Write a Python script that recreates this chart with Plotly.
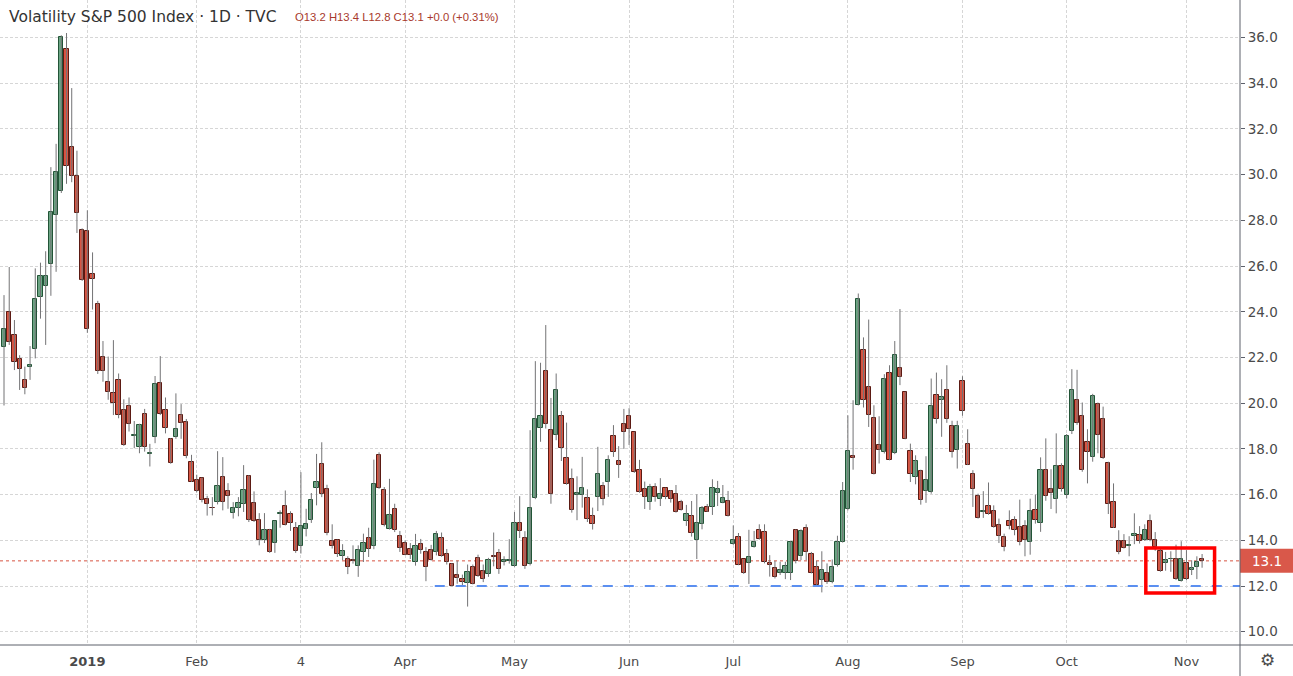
import pandas as pd
import plotly.graph_objects as go

# trading days shown (US market holidays removed)
HOLIDAYS = ["2018-12-25", "2019-01-01", "2019-01-21", "2019-02-18", "2019-04-19",
            "2019-05-27", "2019-07-04", "2019-09-02"]
DATES = [d.strftime("%Y-%m-%d") for d in pd.bdate_range("2018-12-07", "2019-11-06")
         if d.strftime("%Y-%m-%d") not in HOLIDAYS]

OPENS = [
    22.44, 23.97, 22.98, 21.92, 21.02, 21.57, 22.36, 24.65, 25.13, 26.11, 28.25, 29.28, 35.49, 31.21, 29.95, 27.59,
    27.55, 25.67, 24.36, 22.04, 20.94, 20.43, 21.01, 19.70, 19.88, 18.56, 18.07, 19.53, 17.79, 18.54, 20.87, 19.70,
    18.44, 18.54, 19.47, 19.16, 17.42, 16.65, 16.72, 15.80, 15.43, 15.66, 16.79, 16.17, 15.21, 15.42, 15.60, 16.82,
    15.64, 14.90, 14.00, 14.47, 13.88, 15.17, 15.51, 15.16, 14.55, 13.75, 14.49, 14.90, 16.30, 17.35, 16.25, 13.96,
    14.00, 13.32, 13.20, 13.12, 12.88, 13.49, 14.12, 13.75, 17.75, 16.21, 14.51, 15.38, 14.17, 13.90, 13.62, 13.05,
    13.85, 13.49, 13.59, 13.49, 14.09, 13.40, 12.97, 12.50, 12.29, 12.14, 12.84, 13.23, 12.65, 12.53, 13.32, 13.44,
    13.05, 13.10, 12.89, 14.75, 14.10, 12.95, 15.85, 18.93, 21.40, 18.82, 18.63, 19.43, 17.58, 16.70, 15.97, 15.97,
    15.87, 15.05, 15.90, 16.36, 16.53, 18.55, 17.46, 19.09, 19.45, 18.73, 17.08, 16.23, 15.66, 16.32, 15.81, 16.28,
    16.16, 16.01, 15.66, 14.86, 15.07, 14.01, 14.71, 15.45, 15.45, 16.09, 15.65, 15.72, 13.84, 14.16, 13.16, 12.99,
    13.71, 14.46, 14.36, 12.99, 12.77, 12.59, 12.59, 12.59, 14.43, 13.30, 14.55, 13.42, 12.81, 12.26, 12.59, 12.16,
    12.90, 13.94, 15.39, 17.68, 19.94, 22.32, 20.69, 19.37, 18.16, 17.87, 21.30, 17.80, 21.56, 20.47, 17.93, 16.77,
    17.02, 16.15, 16.12, 20.35, 20.16, 20.57, 19.02, 17.94, 20.96, 18.23, 16.92, 15.93, 15.24, 15.52, 15.28, 14.69,
    14.15, 14.85, 14.91, 14.58, 14.63, 13.93, 15.34, 14.77, 17.08, 16.23, 15.79, 17.25, 15.98, 18.79, 20.15, 19.44,
    18.30, 17.63, 19.97, 19.30, 17.37, 15.66, 13.96, 13.96, 13.77, 14.20, 14.22, 14.00, 14.83, 14.00, 13.52, 13.01,
    13.16, 13.20, 12.22, 12.99, 12.70, 12.84, 13.20,
]
HIGHS = [
    24.73, 25.96, 23.64, 22.10, 21.60, 22.50, 25.90, 26.15, 26.65, 30.33, 31.35, 36.10, 36.20, 33.79, 31.05, 27.65,
    28.44, 26.60, 24.48, 22.72, 22.04, 22.76, 21.30, 20.17, 20.25, 19.22, 19.10, 19.75, 18.22, 21.19, 22.06, 20.25,
    18.47, 20.43, 19.96, 19.31, 17.74, 16.87, 16.75, 15.95, 15.89, 17.90, 17.64, 16.50, 15.67, 15.89, 17.29, 16.85,
    16.14, 15.19, 15.19, 14.50, 14.86, 15.31, 16.18, 15.27, 14.80, 16.98, 15.38, 16.07, 17.78, 18.29, 16.43, 14.70,
    14.03, 13.83, 13.30, 13.78, 13.78, 14.29, 14.55, 17.53, 17.85, 16.33, 16.69, 15.60, 14.41, 14.00, 13.88, 14.28,
    14.06, 13.70, 13.80, 14.41, 14.34, 13.62, 13.00, 13.11, 12.50, 12.94, 12.94, 13.37, 12.94, 13.23, 14.34, 13.62,
    13.30, 14.05, 15.24, 15.93, 14.40, 18.82, 21.84, 21.77, 23.42, 20.23, 21.30, 19.66, 19.15, 17.14, 16.80, 17.65,
    16.23, 15.43, 18.09, 16.55, 17.72, 19.04, 18.12, 19.75, 19.78, 18.75, 17.52, 16.57, 16.47, 16.50, 16.72, 16.30,
    16.20, 16.42, 15.77, 15.55, 15.72, 16.01, 15.50, 15.59, 16.67, 16.60, 16.42, 16.16, 14.65, 14.32, 13.18, 14.46,
    14.41, 14.70, 14.70, 13.35, 13.10, 13.06, 13.06, 13.96, 14.48, 14.48, 14.70, 13.49, 13.10, 13.52, 12.99, 13.16,
    14.20, 16.55, 19.47, 20.13, 24.80, 22.88, 23.66, 19.91, 19.43, 21.27, 21.66, 22.72, 24.12, 20.50, 18.23, 17.72,
    17.09, 17.68, 21.08, 21.34, 21.05, 21.66, 19.23, 19.23, 21.18, 18.86, 17.07, 16.04, 16.15, 16.53, 15.53, 14.95,
    14.29, 15.31, 15.05, 15.78, 14.88, 15.82, 16.00, 17.63, 18.46, 17.11, 18.68, 17.37, 18.65, 21.49, 21.46, 20.03,
    18.86, 20.41, 20.03, 19.85, 17.44, 16.49, 14.44, 14.27, 14.18, 15.18, 14.62, 14.70, 15.13, 14.36, 13.71, 13.49,
    13.52, 13.81, 13.96, 13.57, 13.13, 13.30, 13.40,
]
LOWS = [
    19.90, 22.55, 21.45, 20.58, 20.39, 21.02, 21.96, 23.70, 22.55, 24.70, 25.75, 29.20, 29.60, 29.67, 27.45, 25.35,
    23.08, 24.10, 21.28, 20.94, 20.15, 19.48, 19.34, 18.13, 18.76, 18.03, 17.81, 17.88, 17.23, 18.25, 19.48, 18.68,
    17.35, 18.44, 18.44, 17.59, 16.55, 16.10, 15.66, 15.08, 15.09, 15.57, 15.31, 15.38, 14.95, 15.05, 15.24, 14.80,
    14.80, 13.78, 13.88, 13.45, 13.45, 14.55, 14.65, 14.41, 13.45, 13.42, 14.17, 14.76, 15.53, 15.89, 14.22, 13.64,
    13.27, 13.13, 12.52, 12.98, 12.40, 13.05, 13.27, 13.61, 16.25, 14.61, 14.47, 14.36, 13.49, 13.35, 13.18, 12.89,
    13.41, 12.21, 13.11, 13.34, 13.28, 12.94, 11.98, 12.10, 12.00, 11.10, 12.07, 12.40, 12.17, 12.40, 12.86, 12.53,
    12.90, 12.98, 12.84, 14.10, 12.75, 12.90, 15.80, 18.31, 18.89, 15.60, 18.38, 17.47, 16.43, 15.21, 14.88, 15.43,
    14.80, 14.47, 15.28, 15.53, 15.90, 17.65, 16.73, 18.00, 18.17, 16.95, 16.08, 15.37, 15.33, 15.69, 15.50, 15.80,
    15.65, 15.21, 15.30, 14.63, 14.16, 13.18, 14.48, 15.24, 15.11, 15.50, 15.62, 15.04, 13.80, 12.91, 12.53, 12.09,
    13.68, 14.03, 12.99, 12.41, 12.33, 12.48, 12.30, 12.26, 12.99, 13.13, 13.13, 12.55, 12.00, 11.72, 12.09, 12.12,
    12.85, 13.90, 15.31, 17.09, 19.90, 19.81, 18.96, 16.88, 17.36, 17.80, 17.50, 17.77, 20.79, 18.42, 16.55, 16.45,
    15.56, 15.64, 16.04, 19.11, 18.53, 19.14, 17.62, 17.14, 19.45, 17.29, 15.46, 14.95, 14.98, 15.12, 14.55, 13.88,
    13.52, 14.48, 14.22, 13.78, 13.30, 13.37, 14.73, 14.37, 15.73, 15.37, 15.18, 16.13, 15.83, 18.65, 19.05, 17.00,
    16.49, 17.44, 17.81, 17.56, 15.15, 14.54, 13.39, 13.64, 13.30, 13.83, 13.86, 13.97, 13.96, 13.54, 12.62, 12.67,
    12.62, 12.26, 12.19, 12.26, 12.48, 12.30, 12.80,
]
CLOSES = [
    23.23, 22.66, 21.79, 21.48, 20.65, 21.67, 24.54, 25.57, 25.57, 28.36, 30.11, 36.04, 30.37, 29.93, 28.32, 25.41,
    23.23, 25.45, 21.40, 21.40, 20.47, 19.99, 19.48, 18.17, 19.08, 18.60, 19.05, 18.07, 17.81, 20.84, 19.51, 18.90,
    17.40, 18.86, 19.12, 17.67, 16.57, 16.14, 15.75, 15.59, 15.40, 16.36, 15.67, 15.93, 15.42, 15.64, 16.21, 14.90,
    14.84, 14.00, 14.47, 13.49, 14.83, 15.19, 14.68, 14.77, 13.53, 14.61, 14.73, 15.75, 16.56, 16.04, 14.33, 13.75,
    13.42, 13.52, 12.84, 13.08, 13.56, 13.90, 13.64, 16.47, 16.30, 14.68, 15.12, 14.44, 13.68, 13.37, 13.34, 13.76,
    13.56, 12.84, 13.15, 14.28, 13.30, 13.05, 12.00, 12.36, 12.18, 12.62, 12.10, 12.43, 12.32, 13.12, 13.28, 12.75,
    13.12, 13.14, 14.77, 14.42, 12.87, 15.43, 19.33, 19.43, 19.11, 16.04, 20.57, 18.06, 16.45, 15.31, 16.07, 16.31,
    14.95, 14.73, 16.92, 15.82, 17.50, 17.88, 17.31, 18.73, 18.86, 16.98, 16.10, 15.91, 16.32, 15.91, 16.01, 15.91,
    15.81, 15.26, 15.33, 15.14, 14.34, 14.74, 15.40, 15.26, 16.28, 16.23, 15.84, 15.08, 14.03, 12.94, 12.55, 13.28,
    13.94, 14.07, 13.03, 12.94, 12.38, 12.69, 12.87, 13.94, 13.10, 14.41, 13.49, 12.59, 12.04, 12.72, 12.16, 12.81,
    13.94, 16.15, 17.90, 17.62, 24.58, 20.16, 19.50, 16.92, 17.97, 21.08, 17.53, 22.09, 21.15, 18.45, 16.88, 17.49,
    15.78, 16.66, 19.87, 19.33, 20.29, 19.33, 17.88, 18.99, 19.66, 17.31, 16.26, 14.99, 15.27, 15.17, 14.58, 14.19,
    13.71, 14.63, 14.44, 13.93, 14.03, 15.28, 14.91, 17.08, 15.95, 16.05, 17.25, 16.23, 18.57, 20.58, 19.12, 17.08,
    17.85, 20.32, 18.63, 17.59, 15.58, 14.56, 13.49, 13.68, 13.79, 14.27, 13.99, 14.46, 14.00, 13.71, 12.65, 13.13,
    13.20, 12.30, 13.20, 12.29, 12.80, 13.06, 13.10,
]

TICK_DATES = ["2019-01-02", "2019-02-01", "2019-03-04", "2019-04-01", "2019-05-01", "2019-06-03",
              "2019-07-01", "2019-08-01", "2019-09-03", "2019-10-01", "2019-11-01"]
TICK_LABELS = ["<b>2019</b>", "Feb", "4", "Apr", "May", "Jun", "Jul", "Aug", "Sep", "Oct", "Nov"]

LAST_PRICE = 13.1
SUPPORT = 12.0
TITLE = "Volatility S&P 500 Index · 1D · TVC"
OHLC_TEXT = "O13.2 H13.4 L12.8 C13.1 +0.0 (+0.31%)"

UP_FILL, UP_LINE = "#6ba583", "#225437"
DOWN_FILL, DOWN_LINE = "#d75442", "#5b1a13"
WICK = "#737375"
GRID = "#d6d6d6"
AXIS = "#5d606b"
TEXT = "#4a4a4a"

# plot area in pixels
PLOT_W, PLOT_H = 1240, 645
X_RANGE = [-0.77, 237.28]
Y_RANGE = [9.418, 37.645]

# wicks
wx, wy = [], []
for d, lo, hi in zip(DATES, LOWS, HIGHS):
    wx += [d, d, None]
    wy += [lo, hi, None]

fig = go.Figure()
fig.add_trace(go.Scatter(x=wx, y=wy, mode="lines", line=dict(color=WICK, width=1),
                         hoverinfo="skip", showlegend=False))

for is_up, fill, edge in [(True, UP_FILL, UP_LINE), (False, DOWN_FILL, DOWN_LINE)]:
    xs, base, height = [], [], []
    for d, o, c in zip(DATES, OPENS, CLOSES):
        if (c >= o) == is_up:
            xs.append(d)
            base.append(min(o, c))
            height.append(max(abs(c - o), 0.03))
    fig.add_trace(go.Bar(x=xs, y=height, base=base, width=0.82,
                         marker=dict(color=fill, line=dict(color=edge, width=1)),
                         showlegend=False))

shapes = [
    # last price dotted line
    dict(type="line", xref="paper", x0=0, x1=1, yref="y", y0=LAST_PRICE, y1=LAST_PRICE,
         line=dict(color=DOWN_FILL, width=1, dash="dot"), layer="below"),
    # support level
    dict(type="line", xref="x", x0=82.7, x1=X_RANGE[1], yref="y", y0=SUPPORT, y1=SUPPORT,
         line=dict(color="#5b8ff0", width=2, dash="10px,11px")),
    # highlight box
    dict(type="rect", xref="x", x0=219.2, x1=232.4, yref="y", y0=11.69, y1=13.66,
         line=dict(color="#ff0000", width=3.5)),
    # price label box
    dict(type="rect", xref="paper", x0=1, x1=1293 / PLOT_W, yref="y",
         y0=LAST_PRICE - 0.525, y1=LAST_PRICE + 0.525, fillcolor="#d9584a", line=dict(width=0)),
    # scale borders
    dict(type="line", xref="paper", x0=0, x1=1293 / PLOT_W, yref="paper", y0=0, y1=0,
         line=dict(color=AXIS, width=1)),
    dict(type="line", xref="paper", x0=1, x1=1, yref="paper", y0=-31 / PLOT_H, y1=1,
         line=dict(color=AXIS, width=1)),
]

annotations = [
    dict(xref="paper", yref="paper", x=7 / PLOT_W, y=1 - 17 / PLOT_H, xanchor="left", yanchor="middle",
         text=TITLE, showarrow=False, font=dict(size=15.5, color="#333333")),
    dict(xref="paper", yref="paper", x=293 / PLOT_W, y=1 - 17 / PLOT_H, xanchor="left", yanchor="middle",
         text=OHLC_TEXT, showarrow=False,
         font=dict(family="Liberation Sans", size=11.3, color="#a8392c")),
    dict(xref="paper", yref="y", x=1266.5 / PLOT_W, y=LAST_PRICE, xanchor="center", yanchor="middle",
         text=f"{LAST_PRICE:.1f}", showarrow=False, font=dict(size=13.5, color="white")),
    dict(xref="paper", yref="paper", x=1267 / PLOT_W, y=-15 / PLOT_H, xanchor="center", yanchor="middle",
         text="⚙", showarrow=False, font=dict(size=17, color=TEXT)),
]

fig.update_layout(
    width=1293, height=676,
    margin=dict(l=0, r=1293 - PLOT_W, t=0, b=676 - PLOT_H),
    paper_bgcolor="white", plot_bgcolor="white",
    barmode="overlay", bargap=0, showlegend=False,
    font=dict(family="DejaVu Sans", color=TEXT),
    shapes=shapes, annotations=annotations,
)
fig.update_xaxes(type="category", categoryorder="array", categoryarray=DATES, range=X_RANGE,
                 tickvals=TICK_DATES, ticktext=TICK_LABELS, tickfont=dict(size=13, color=TEXT),
                 showgrid=True, gridcolor=GRID, griddash="3px,2px", gridwidth=1,
                 ticks="outside", ticklen=4, tickcolor="rgba(0,0,0,0)",
                 showline=False, zeroline=False, fixedrange=True)
fig.update_yaxes(side="right", range=Y_RANGE, tick0=10, dtick=2, tickformat=".1f",
                 tickfont=dict(size=13.5, color=TEXT), showgrid=True, gridcolor=GRID,
                 griddash="3px,2px", gridwidth=1, ticks="outside", ticklen=4, tickcolor=AXIS,
                 showline=False, zeroline=False, fixedrange=True)

fig.write_html("out.html", config={"displayModeBar": False},
               post_script="document.body.style.margin='0';document.body.style.overflow='hidden';")
